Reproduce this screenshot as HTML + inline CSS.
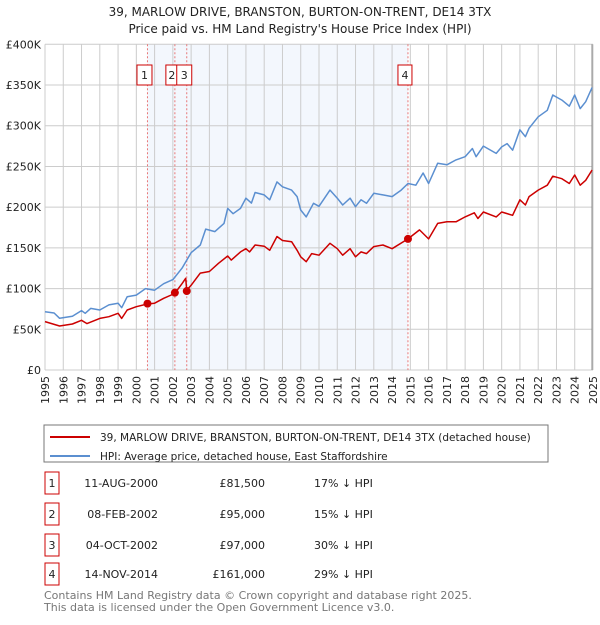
<!DOCTYPE html>
<html><head><meta charset="utf-8"><style>
body{margin:0;background:#fff;font-family:"Liberation Sans","DejaVu Sans",sans-serif;}
svg text{font-family:"DejaVu Sans","Liberation Sans",sans-serif;}
</style></head><body>
<svg id="c" width="600" height="620" xmlns="http://www.w3.org/2000/svg">
<text x="300" y="16" text-anchor="middle" font-size="12" fill="#222">39, MARLOW DRIVE, BRANSTON, BURTON-ON-TRENT, DE14 3TX</text>
<text x="300" y="33" text-anchor="middle" font-size="12" fill="#222">Price paid vs. HM Land Registry's House Price Index (HPI)</text>
<g id="plot"></g>
<rect x="44" y="425" width="504" height="37" fill="#fff" stroke="#777"/>
<line x1="50" y1="437" x2="90" y2="437" stroke="#cc0000" stroke-width="2"/>
<text x="100" y="441" font-size="10.5" fill="#222">39, MARLOW DRIVE, BRANSTON, BURTON-ON-TRENT, DE14 3TX (detached house)</text>
<line x1="50" y1="456" x2="90" y2="456" stroke="#5b8fd0" stroke-width="2"/>
<text x="100" y="460" font-size="10.5" fill="#222">HPI: Average price, detached house, East Staffordshire</text>
<g id="table"></g>
<text x="44" y="599" font-size="11" fill="#777">Contains HM Land Registry data © Crown copyright and database right 2025.</text>
<text x="44" y="611" font-size="11" fill="#777">This data is licensed under the Open Government Licence v3.0.</text>
</svg>
<script>
const hpiYears=[1995,1995.5,1995.8,1996.5,1997,1997.2,1997.5,1998,1998.5,1999,1999.2,1999.5,2000,2000.5,2001,2001.5,2002,2002.5,2003,2003.5,2003.8,2004.3,2004.8,2005,2005.3,2005.7,2006,2006.3,2006.5,2007,2007.3,2007.7,2008,2008.5,2008.8,2009,2009.3,2009.7,2010,2010.6,2011,2011.3,2011.7,2012,2012.3,2012.6,2013,2013.5,2014,2014.5,2014.87,2015.3,2015.7,2016,2016.5,2017,2017.5,2018,2018.4,2018.6,2019,2019.7,2020,2020.3,2020.6,2021,2021.3,2021.5,2022,2022.5,2022.8,2023.3,2023.7,2024,2024.3,2024.6,2024.95];
const hpiValues=[71.6,70,63.5,66,73,69.6,75.7,73.7,80,82,76.5,90,92,100,98,106,111,125,144,153.5,173,170,180,198.5,192,198.5,211,205,218,215,209,231,225,221,213,196.5,188,204.7,201,221,211,202.6,211,200.5,209,204.7,217,215,213,221,229,227,242,229,254,252,258,262,272,262,275,266,274,278,270,295,286.5,297,311,319,337.7,331.5,324,337.7,321,329.5,347];
const priceYears=[1995,1995.8,1996.5,1997,1997.3,1998,1998.5,1999,1999.2,1999.5,2000,2000.6,2001,2001.5,2002.1,2002.5,2002.7,2002.76,2003,2003.5,2004,2004.5,2005,2005.2,2005.7,2006,2006.2,2006.5,2007,2007.3,2007.7,2008,2008.5,2008.8,2009,2009.3,2009.6,2010,2010.6,2011,2011.3,2011.7,2012,2012.3,2012.6,2013,2013.5,2014,2014.87,2015.5,2016,2016.5,2017,2017.5,2018,2018.5,2018.7,2019,2019.7,2020,2020.6,2021,2021.3,2021.5,2022,2022.5,2022.8,2023.3,2023.7,2024,2024.3,2024.6,2024.95];
const priceValues=[59.4,54,56.5,61,57,63.4,65.5,69.6,63.4,73.7,77.8,81,82,88,94,106,112.6,98,104,119,121,131,140,135,145,149,145,153.5,152,147,164,159,157.6,147,139,133,143,141,155.6,149,141,149,139,145,143,151.5,153.5,149,161,172,161,180,182,182,188,193,186,194,188,194,190,209,202.6,213,221,227,238,235,229,239.5,227,233,245.6];
const saleLabels=["1","2","3","4"];
const saleDates=[2000.61,2002.11,2002.76,2014.87];
const salePrices=[81.5,95,97,161];
const saleDateText=["11-AUG-2000","08-FEB-2002","04-OCT-2002","14-NOV-2014"];
const salePriceText=["£81,500","£95,000","£97,000","£161,000"];
const saleHpiText=["17% ↓ HPI","15% ↓ HPI","30% ↓ HPI","29% ↓ HPI"];
const yTicks=[0,50,100,150,200,250,300,350,400];
const yTickLabels=["£0","£50K","£100K","£150K","£200K","£250K","£300K","£350K","£400K"];

const NS="http://www.w3.org/2000/svg";
const X0=45,X1=593,Y0=370,Y1=44.3;
const xs=y=>X0+(y-1995)/30*(X1-X0);
const ys=v=>Y0-v/400*(Y0-Y1);
function mk(tag,at,parent){const e=document.createElementNS(NS,tag);for(const k in at)e.setAttribute(k,at[k]);parent.appendChild(e);return e;}
const g=document.getElementById('plot');
const shade=mk('rect',{x:xs(saleDates[0]),y:Y1,width:xs(saleDates[3])-xs(saleDates[0]),height:Y0-Y1,fill:'#eef3fc',opacity:0.7},g);


for(let yr=1995;yr<=2025;yr++){
  const l=mk('line',{x1:xs(yr),x2:xs(yr),y1:Y1,y2:Y0,stroke:'#cccccc'},g);
  
  
  const t=mk('text',{x:0,y:0,'font-size':11,fill:'#222','text-anchor':'end',transform:`translate(${xs(yr)+4},${Y0+6}) rotate(-90)`},g);
  t.textContent=String(yr);
  
  
}
yTicks.forEach((v,i)=>{
  const l=mk('line',{x1:X0,x2:X1,y1:ys(v),y2:ys(v),stroke:'#cccccc'},g);
  
  
  const t=mk('text',{x:X0-4,y:ys(v)+4,'font-size':11,fill:'#222','text-anchor':'end'},g);
  t.textContent=yTickLabels[i];
  
  
});
const rb=mk('line',{x1:X1-1,x2:X1-1,y1:Y1,y2:Y0,stroke:'#888'},g);


saleDates.forEach((d,i)=>{
  const l=mk('line',{x1:xs(d),x2:xs(d),y1:Y1,y2:Y0,stroke:'#e87777','stroke-dasharray':'2,2'},g);
  
  
});
function path(xsArr,vs,col,name){
  const d=xsArr.map((x,i)=>(i?'L':'M')+xs(x).toFixed(1)+','+ys(vs[i]).toFixed(1)).join('');
  const p=mk('path',{d,fill:'none',stroke:col,'stroke-width':1.5,'stroke-linejoin':'round'},g);
  
  
}
path(hpiYears,hpiValues,'#5b8fd0','hpi-line');
path(priceYears,priceValues,'#cc0000','price-line');
const boxOff=[-10.5,-9,-10,-10];
const boxW=[15,12,15,14];
saleDates.forEach((d,i)=>{
  const c=mk('circle',{cx:xs(d),cy:ys(salePrices[i]),r:4,fill:'#cc0000'},g);
  
  
  const bx=xs(d)+boxOff[i];
  const r=mk('rect',{x:bx,y:65,width:boxW[i],height:20,fill:'#fff',stroke:'#cc0000'},g);
  
  
  const t=mk('text',{x:bx+boxW[i]/2,y:79,'font-size':11,fill:'#222','text-anchor':'middle'},g);
  t.textContent=saleLabels[i];
  
  
});
const tb=document.getElementById('table');
const rowY=[483,514,545,574];
saleLabels.forEach((lab,i)=>{
  const y=rowY[i];
  const r=mk('rect',{x:45,y:y-11,width:14,height:22,fill:'#fff',stroke:'#cc0000'},tb);
  
  
  const a=mk('text',{x:52,y:y+4,'font-size':11,fill:'#222','text-anchor':'middle'},tb);a.textContent=lab;
  
  
  const b=mk('text',{x:158,y:y+4,'font-size':11,fill:'#222','text-anchor':'end'},tb);b.textContent=saleDateText[i];
  
  
  const c=mk('text',{x:265,y:y+4,'font-size':11,fill:'#222','text-anchor':'end'},tb);c.textContent=salePriceText[i];
  
  
  const e=mk('text',{x:314,y:y+4,'font-size':11,fill:'#222'},tb);e.textContent=saleHpiText[i];
  
  
});
</script>
</body></html>
